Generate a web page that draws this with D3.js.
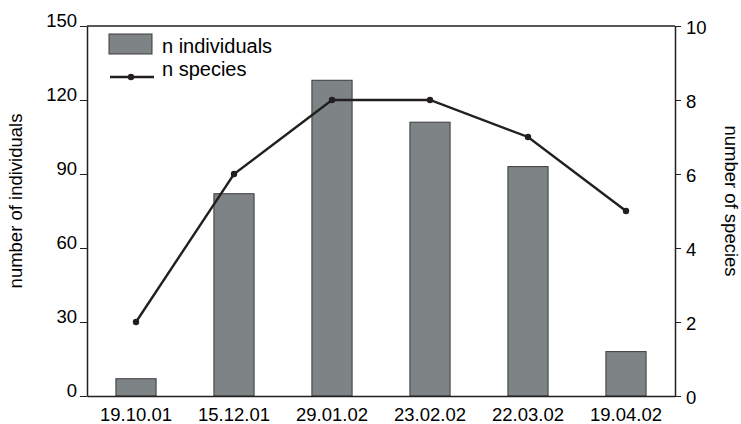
<!DOCTYPE html>
<html>
<head>
<meta charset="utf-8">
<script src="https://cdn.jsdelivr.net/npm/d3@7"></script>
<style>
  html, body { margin: 0; padding: 0; background: #fff; }
  svg { display: block; font-family: "Liberation Sans", Arial, sans-serif; }
</style>
</head>
<body>
<svg id="chart" width="741" height="424"></svg>
<script>
// Sampling dates, counts of individuals (bars) and species (line)
const dates = ["19.10.01", "15.12.01", "29.01.02", "23.02.02", "22.03.02", "19.04.02"];
const individuals = [7, 82, 128, 111, 93, 18];
const species = [2, 6, 8, 8, 7, 5];
const leftTicks = [0, 30, 60, 90, 120, 150];
const rightTicks = [0, 2, 4, 6, 8, 10];

const svg = d3.select("#chart");
const ink = "#231f20";
const m = { left: 87, right: 675, top: 26, bottom: 396 };

const x = d3.scaleBand().domain(dates).range([m.left, m.right]).paddingInner(0.59).paddingOuter(0.295);
const yL = d3.scaleLinear().domain([0, 150]).range([m.bottom, m.top]);
const yR = d3.scaleLinear().domain([0, 10]).range([m.bottom, m.top]);

// bars
svg.append("g").selectAll("rect").data(individuals).join("rect")
  .attr("x", (d, i) => x(dates[i]))
  .attr("y", d => yL(d))
  .attr("width", x.bandwidth())
  .attr("height", d => yL(0) - yL(d))
  .attr("fill", "#7e8486")
  .attr("stroke", "#3a3a3a")
  .attr("stroke-width", 1);

// frame: top line and baseline
svg.append("line").attr("x1", m.left).attr("x2", m.right).attr("y1", m.top).attr("y2", m.top)
  .attr("stroke", ink).attr("stroke-width", 1.5);

// left axis
const gL = svg.append("g").attr("transform", `translate(${m.left},0)`)
  .call(d3.axisLeft(yL).tickValues(leftTicks).tickSize(7).tickSizeOuter(0).tickPadding(3));
gL.select(".domain").attr("stroke", ink).attr("stroke-width", 1.5);
gL.selectAll(".tick line").attr("stroke", ink).attr("stroke-width", 1);
gL.selectAll(".tick text").attr("dy", "0.05em").attr("font-size", 18.5).attr("fill", "#000")
  .attr("font-family", "Liberation Sans, Arial, sans-serif");

// right axis
const gR = svg.append("g").attr("transform", `translate(${m.right},0)`)
  .call(d3.axisRight(yR).tickValues(rightTicks).tickSize(6).tickSizeOuter(0).tickPadding(5));
gR.select(".domain").attr("stroke", ink).attr("stroke-width", 1.5);
gR.selectAll(".tick line").attr("stroke", ink).attr("stroke-width", 1);
gR.selectAll(".tick text").attr("dy", "0.4em").attr("font-size", 18.5).attr("fill", "#000")
  .attr("font-family", "Liberation Sans, Arial, sans-serif");

// bottom axis
const gB = svg.append("g").attr("transform", `translate(0,${m.bottom})`)
  .call(d3.axisBottom(x).tickSize(0).tickPadding(12));
gB.select(".domain").attr("stroke", ink).attr("stroke-width", 1.5);
gB.selectAll(".tick text").attr("font-size", 18.5).attr("fill", "#000")
  .attr("font-family", "Liberation Sans, Arial, sans-serif");

// species line
const line = d3.line().x((d, i) => x(dates[i]) + x.bandwidth() / 2).y(d => yR(d));
svg.append("path").datum(species).attr("d", line)
  .attr("fill", "none").attr("stroke", ink).attr("stroke-width", 2.4);
svg.append("g").selectAll("circle").data(species).join("circle")
  .attr("cx", (d, i) => x(dates[i]) + x.bandwidth() / 2)
  .attr("cy", d => yR(d))
  .attr("r", 3.2).attr("fill", ink);

// axis titles
svg.append("text").attr("transform", "translate(22,201) rotate(-90)")
  .attr("text-anchor", "middle").attr("font-size", 18.5).attr("fill", "#000")
  .text("number of individuals");
svg.append("text").attr("transform", "translate(725,201) rotate(90)")
  .attr("text-anchor", "middle").attr("font-size", 18.5).attr("fill", "#000")
  .text("number of species");

// legend
const lg = svg.append("g");
lg.append("rect").attr("x", 109).attr("y", 34).attr("width", 43).attr("height", 20)
  .attr("fill", "#7e8486").attr("stroke", "#3a3a3a").attr("stroke-width", 1);
lg.append("text").attr("x", 162).attr("y", 53).attr("font-size", 20).attr("fill", "#000").text("n individuals");
lg.append("line").attr("x1", 110).attr("x2", 154).attr("y1", 77).attr("y2", 77)
  .attr("stroke", ink).attr("stroke-width", 2.4);
lg.append("circle").attr("cx", 131).attr("cy", 77).attr("r", 3.2).attr("fill", ink);
lg.append("text").attr("x", 162).attr("y", 76).attr("font-size", 20).attr("fill", "#000").text("n species");
</script>
</body>
</html>
